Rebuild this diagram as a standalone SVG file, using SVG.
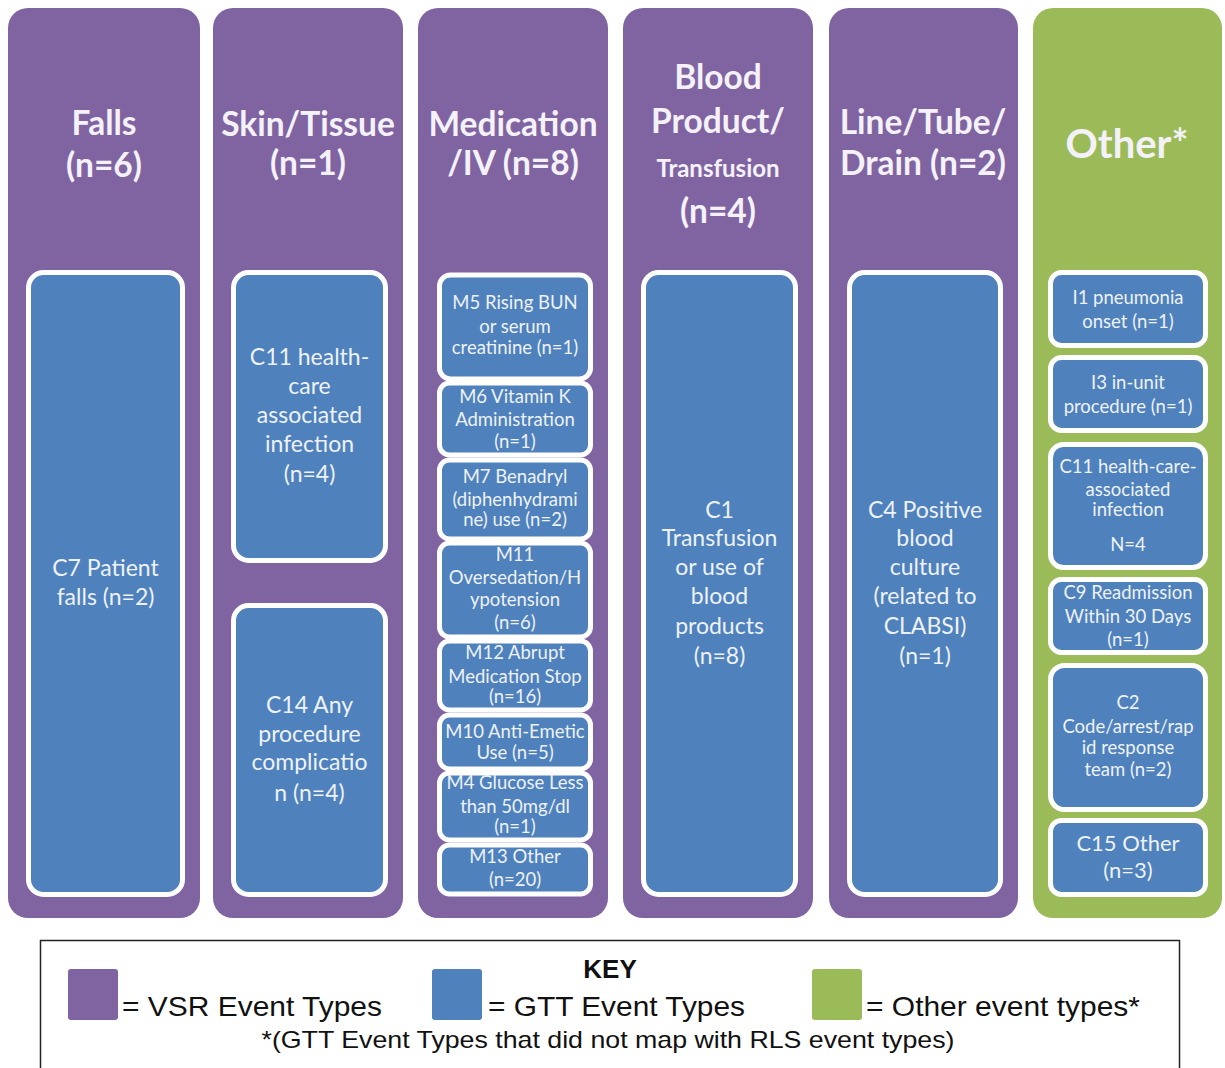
<svg xmlns="http://www.w3.org/2000/svg" width="1225" height="1068" viewBox="0 0 1225 1068">
<style>
.col{fill:#8064a2}
.colg{fill:#9bbb59}
.box{fill:#4f81bd;stroke:#ffffff;stroke-width:5}
.hd{font-family:Lato,"Liberation Sans",sans-serif;font-weight:bold;font-size:33.5px;fill:#f4f2f8;text-anchor:middle}
.tb{font-family:Lato,"Liberation Sans",sans-serif;font-size:23px;fill:#edf2f9;text-anchor:middle}
.ts{font-family:Lato,"Liberation Sans",sans-serif;font-size:18.5px;fill:#edf2f9;text-anchor:middle}
.key{font-family:"Liberation Sans",Arial,sans-serif;fill:#111;}
</style>
<rect width="1225" height="1068" fill="#ffffff"/>

<g id="falls">
<rect class="col" x="8" y="8" width="192" height="910" rx="20"/>
<text class="hd" x="104" y="135">Falls</text>
<text class="hd" x="104" y="177">(n=6)</text>
<g id="c7">
<rect class="box" x="28.5" y="272.5" width="154" height="622" rx="15"/>
<text class="tb" x="105.5" y="576">C7 Patient</text>
<text class="tb" x="105.5" y="605">falls (n=2)</text>
</g>
</g>

<g id="skin">
<rect class="col" x="213" y="8" width="190" height="910" rx="20"/>
<text class="hd" x="308" y="136">Skin/Tissue</text>
<text class="hd" x="308" y="175">(n=1)</text>
<g id="skin-c11">
<rect class="box" x="233.5" y="272.5" width="152" height="288" rx="15"/>
<text class="tb" x="309.5" y="365">C11 health-</text>
<text class="tb" x="309.5" y="394">care</text>
<text class="tb" x="309.5" y="423">associated</text>
<text class="tb" x="309.5" y="452">infection</text>
<text class="tb" x="309.5" y="482">(n=4)</text>
</g>
<g id="skin-c14">
<rect class="box" x="233.5" y="605.5" width="152" height="289" rx="15"/>
<text class="tb" x="309.5" y="713">C14 Any</text>
<text class="tb" x="309.5" y="742">procedure</text>
<text class="tb" x="309.5" y="770">complicatio</text>
<text class="tb" x="309.5" y="801">n (n=4)</text>
</g>
</g>

<g id="medication">
<rect class="col" x="418" y="8" width="190" height="910" rx="20"/>
<text class="hd" x="513" y="136">Medication</text>
<text class="hd" x="513" y="175">/IV (n=8)</text>
<g id="m5">
<rect class="box" x="439.5" y="275" width="151" height="104" rx="11"/>
<text class="ts" x="515" y="309">M5 Rising BUN</text>
<text class="ts" x="515" y="333">or serum</text>
<text class="ts" x="515" y="354">creatinine (n=1)</text>
</g>
<g id="m6">
<rect class="box" x="439.5" y="383" width="151" height="72" rx="10"/>
<text class="ts" x="515" y="403">M6 Vitamin K</text>
<text class="ts" x="515" y="426">Administration</text>
<text class="ts" x="515" y="448">(n=1)</text>
</g>
<g id="m7">
<rect class="box" x="439.5" y="460" width="151" height="79" rx="10"/>
<text class="ts" x="515" y="483">M7 Benadryl</text>
<text class="ts" x="515" y="506">(diphenhydrami</text>
<text class="ts" x="515" y="526">ne) use  (n=2)</text>
</g>
<g id="m11">
<rect class="box" x="439.5" y="543" width="151" height="94" rx="10"/>
<text class="ts" x="515" y="561">M11</text>
<text class="ts" x="515" y="584">Oversedation/H</text>
<text class="ts" x="515" y="606">ypotension</text>
<text class="ts" x="515" y="629">(n=6)</text>
</g>
<g id="m12">
<rect class="box" x="439.5" y="641" width="151" height="69" rx="10"/>
<text class="ts" x="515" y="659">M12 Abrupt</text>
<text class="ts" x="515" y="683">Medication Stop</text>
<text class="ts" x="515" y="703">(n=16)</text>
</g>
<g id="m10">
<rect class="box" x="439.5" y="715" width="151" height="54" rx="10"/>
<text class="ts" x="515" y="738">M10 Anti-Emetic</text>
<text class="ts" x="515" y="759">Use (n=5)</text>
</g>
<g id="m4">
<rect class="box" x="439.5" y="773" width="151" height="67" rx="10"/>
<text class="ts" x="515" y="789">M4 Glucose Less</text>
<text class="ts" x="515" y="813">than 50mg/dl</text>
<text class="ts" x="515" y="833">(n=1)</text>
</g>
<g id="m13">
<rect class="box" x="439.5" y="845" width="151" height="49" rx="10"/>
<text class="ts" x="515" y="863">M13 Other</text>
<text class="ts" x="515" y="886">(n=20)</text>
</g>
</g>

<g id="blood">
<rect class="col" x="623" y="8" width="190" height="910" rx="20"/>
<text class="hd" x="718" y="89">Blood</text>
<text class="hd" x="718" y="133">Product/</text>
<text class="hd" x="718" y="177" style="font-size:24px">Transfusion</text>
<text class="hd" x="718" y="223">(n=4)</text>
<g id="c1">
<rect class="box" x="643.5" y="272.5" width="152" height="622" rx="15"/>
<text class="tb" x="719.5" y="518">C1</text>
<text class="tb" x="719.5" y="546">Transfusion</text>
<text class="tb" x="719.5" y="575">or use of</text>
<text class="tb" x="719.5" y="604">blood</text>
<text class="tb" x="719.5" y="634">products</text>
<text class="tb" x="719.5" y="664">(n=8)</text>
</g>
</g>

<g id="line">
<rect class="col" x="829" y="8" width="189" height="910" rx="20"/>
<text class="hd" x="923" y="134">Line/Tube/</text>
<text class="hd" x="923" y="175">Drain (n=2)</text>
<g id="c4">
<rect class="box" x="849.5" y="272.5" width="151" height="622" rx="15"/>
<text class="tb" x="925" y="518">C4 Positive</text>
<text class="tb" x="925" y="546">blood</text>
<text class="tb" x="925" y="575">culture</text>
<text class="tb" x="925" y="604">(related to</text>
<text class="tb" x="925" y="634">CLABSI)</text>
<text class="tb" x="925" y="664">(n=1)</text>
</g>
</g>

<g id="other">
<rect class="colg" x="1033" y="8" width="189" height="910" rx="20"/>
<text class="hd" x="1127" y="158" style="font-size:40px">Other*</text>
<g id="i1">
<rect class="box" x="1050.5" y="272.5" width="155" height="73" rx="11"/>
<text class="ts" x="1128" y="304">I1 pneumonia</text>
<text class="ts" x="1128" y="328">onset (n=1)</text>
</g>
<g id="i3">
<rect class="box" x="1050.5" y="357.5" width="155" height="73" rx="11"/>
<text class="ts" x="1128" y="389">I3 in-unit</text>
<text class="ts" x="1128" y="413">procedure (n=1)</text>
</g>
<g id="other-c11">
<rect class="box" x="1050.5" y="444.5" width="155" height="123" rx="13"/>
<text class="ts" x="1128" y="473">C11 health-care-</text>
<text class="ts" x="1128" y="496">associated</text>
<text class="ts" x="1128" y="516">infection</text>
<text class="ts" x="1128" y="551">N=4</text>
</g>
<g id="c9">
<rect class="box" x="1050.5" y="579.5" width="155" height="73" rx="11"/>
<text class="ts" x="1128" y="599">C9 Readmission</text>
<text class="ts" x="1128" y="623">Within 30 Days</text>
<text class="ts" x="1128" y="646">(n=1)</text>
</g>
<g id="c2">
<rect class="box" x="1050.5" y="665.5" width="155" height="144" rx="14"/>
<text class="ts" x="1128" y="709">C2</text>
<text class="ts" x="1128" y="733">Code/arrest/rap</text>
<text class="ts" x="1128" y="754">id response</text>
<text class="ts" x="1128" y="776">team (n=2)</text>
</g>
<g id="c15">
<rect class="box" x="1050.5" y="820.5" width="155" height="74" rx="11"/>
<text class="ts" x="1128" y="851" style="font-size:22px">C15 Other</text>
<text class="ts" x="1128" y="878" style="font-size:22px">(n=3)</text>
</g>
</g>

<g id="connectors"></g>

<g id="legend">
<rect x="40.5" y="940.5" width="1139" height="140" fill="#ffffff" stroke="#222222" stroke-width="1.5"/>
<text class="key" x="610" y="978" text-anchor="middle" font-weight="bold" font-size="26">KEY</text>
<rect x="68" y="969" width="50" height="51" rx="3" fill="#8064a2"/>
<text class="key" x="122" y="1016" font-size="28" textLength="260" lengthAdjust="spacingAndGlyphs">= VSR Event Types</text>
<rect x="432" y="969" width="50" height="51" rx="3" fill="#4f81bd"/>
<text class="key" x="488" y="1016" font-size="28" textLength="257" lengthAdjust="spacingAndGlyphs">= GTT Event Types</text>
<rect x="812" y="969" width="50" height="51" rx="3" fill="#9bbb59"/>
<text class="key" x="866" y="1016" font-size="28" textLength="274" lengthAdjust="spacingAndGlyphs">= Other event types*</text>
<text class="key" x="608" y="1048" text-anchor="middle" font-size="24" textLength="693" lengthAdjust="spacingAndGlyphs">*(GTT Event Types that did not map with RLS event types)</text>
</g>
</svg>
